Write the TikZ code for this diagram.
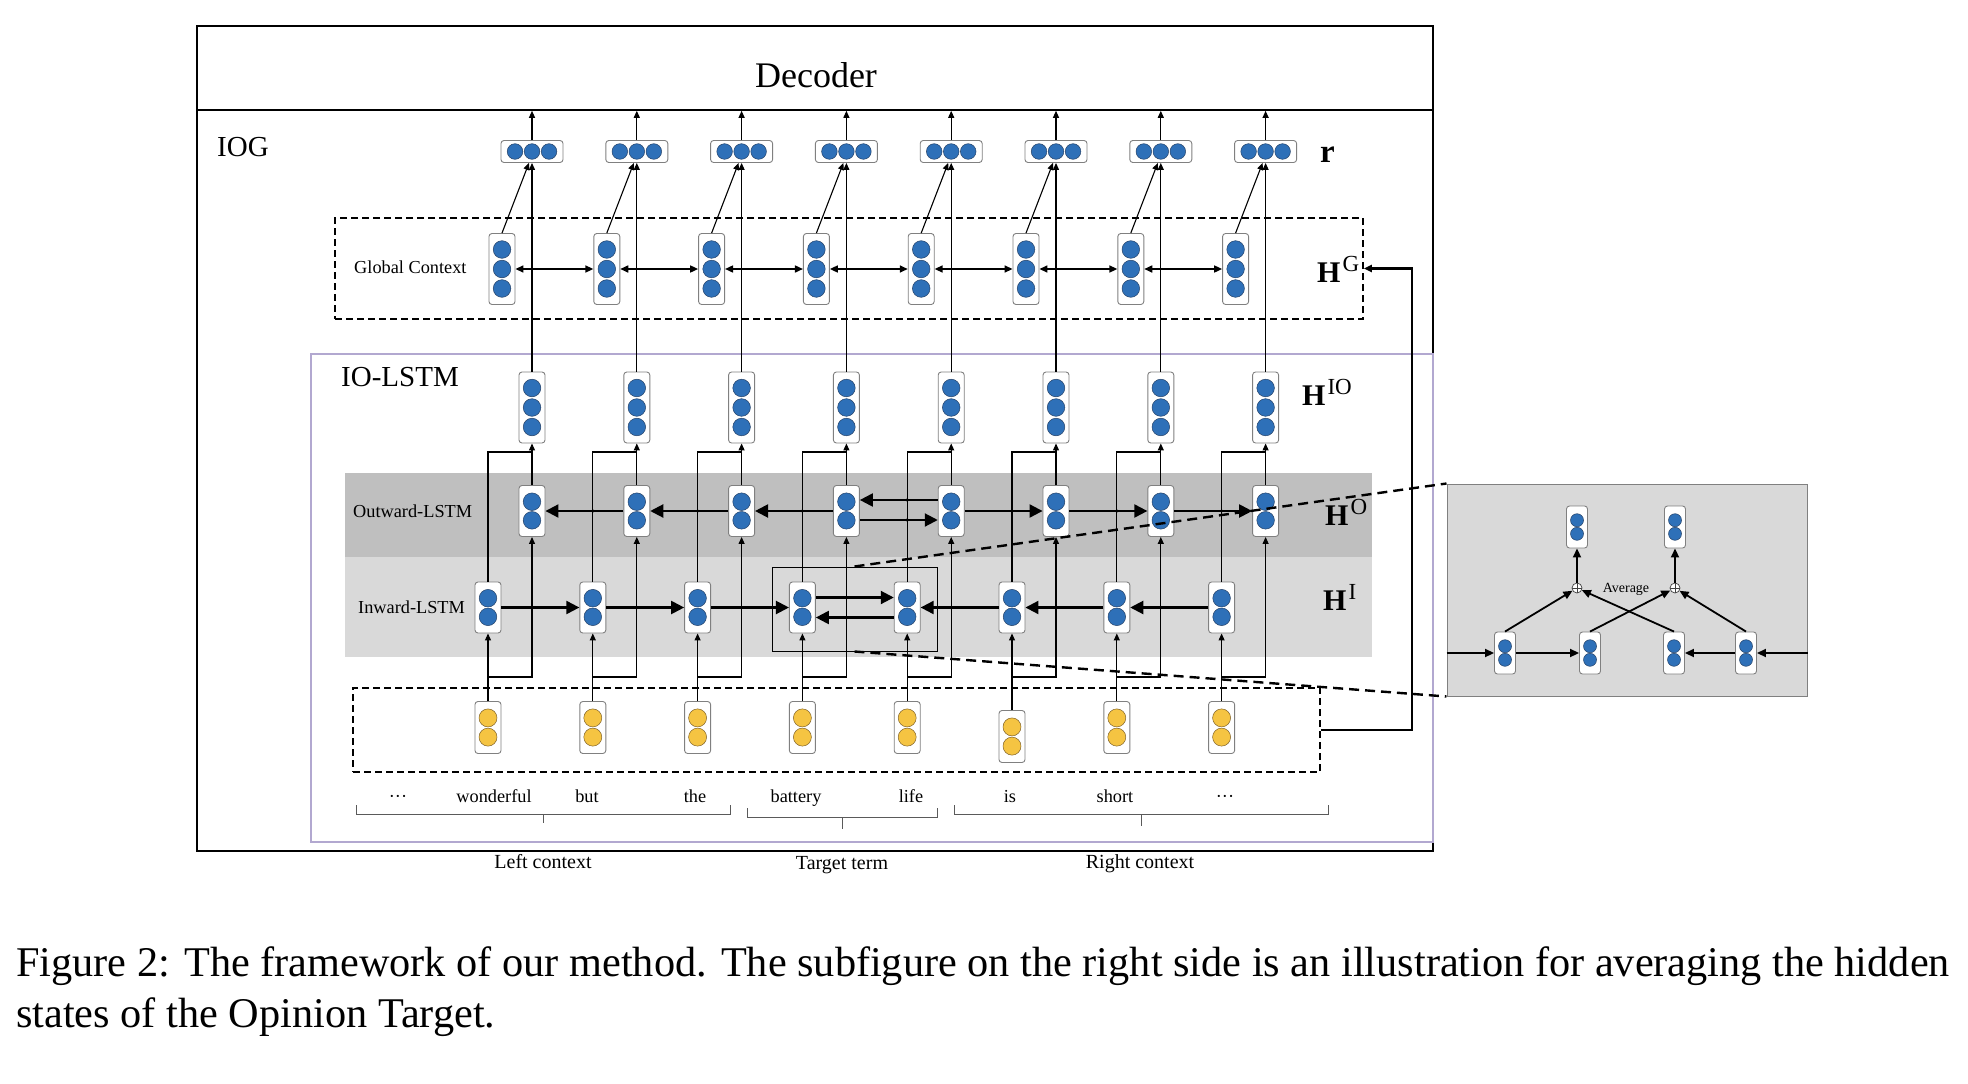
\documentclass[tikz,border=0pt]{standalone}
\usepackage{fontspec}
\setmainfont{Liberation Serif}
\usetikzlibrary{arrows.meta,calc}

\definecolor{cblue}{RGB}{46,112,184}
\definecolor{cblueedge}{RGB}{38,66,104}
\definecolor{cyellow}{RGB}{245,196,66}
\definecolor{cyellowedge}{RGB}{128,98,40}
\definecolor{boxgray}{RGB}{128,128,128}
\definecolor{outband}{RGB}{191,191,191}
\definecolor{inband}{RGB}{217,217,217}
\definecolor{lavender}{RGB}{178,168,208}
\definecolor{bracegray}{RGB}{90,90,90}

\newcommand{\hvec}[1]{\textbf{H}\kern2pt\raisebox{11pt}{\fontsize{23}{23}\selectfont #1}}

\tikzset{
  wire/.style={line width=1.1pt},
  up/.style={wire,-{Triangle[length=7pt,width=6pt]}},
  lstm/.style={line width=2.1pt,-{Triangle[length=13pt,width=13pt]}},
  ctx/.style={line width=1.6pt,{Triangle[length=8pt,width=7pt]}-{Triangle[length=8pt,width=7pt]}},
  feedback/.style={line width=2.3pt,-{Triangle[length=8pt,width=7pt]}},
  subarrow/.style={line width=1.8pt,-{Triangle[length=9pt,width=8pt]}},
  frame/.style={draw,line width=1.6pt},
  dashbox/.style={draw,line width=1.7pt,dash pattern=on 7pt off 4pt},
  zoomline/.style={line width=2.4pt,dash pattern=on 10pt off 6pt},
  bracket/.style={draw=bracegray,line width=1pt},
  unit/.style={draw=boxgray,fill=white,rounded corners=3pt,line width=0.9pt,inner sep=0pt},
  bdot/.style={fill=cblue,draw=cblueedge,line width=0.5pt},
  ydot/.style={fill=cyellow,draw=cyellowedge,line width=0.5pt},
  cellthree/.style={unit,minimum width=26pt,minimum height=71pt,
    path picture={\foreach \d in {-19.5,0,19.5}
      \draw[bdot] ([yshift=\d pt]path picture bounding box.center) circle (8.8pt);}},
  celltwo/.style={unit,minimum width=26pt,minimum height=51pt,
    path picture={\foreach \d in {-9.3,9.3}
      \draw[bdot] ([yshift=\d pt]path picture bounding box.center) circle (8.8pt);}},
  cellword/.style={unit,minimum width=26pt,minimum height=52pt,
    path picture={\foreach \d in {-9.6,9.6}
      \draw[ydot] ([yshift=\d pt]path picture bounding box.center) circle (9pt);}},
  cellr/.style={unit,minimum width=62pt,minimum height=22pt,
    path picture={\foreach \d in {-17,0,17}
      \draw[bdot] ([xshift=\d pt]path picture bounding box.center) circle (7.8pt);}},
  cellsub/.style={unit,minimum width=21pt,minimum height=42pt,
    path picture={\foreach \d in {-6.8,6.8}
      \draw[bdot] ([yshift=\d pt]path picture bounding box.center) circle (6.5pt);}},
  oplus/.style={circle,draw=darkgray,fill=white,minimum size=10pt,inner sep=0pt,line width=0.7pt,
    path picture={\draw[line width=0.5pt,darkgray]
      (path picture bounding box.north) -- (path picture bounding box.south)
      (path picture bounding box.west) -- (path picture bounding box.east);}},
  txt/.style={inner sep=0pt},
  capfont/.style={txt,font=\fontsize{42.3}{48}\selectfont},
  decfont/.style={txt,font=\fontsize{36}{40}\selectfont},
  bigfont/.style={txt,font=\fontsize{29}{32}\selectfont},
  midfont/.style={txt,font=\fontsize{18.3}{20}\selectfont},
  ctxfont/.style={txt,font=\fontsize{20}{22}\selectfont},
  avgfont/.style={txt,font=\fontsize{14}{16}\selectfont},
  hfont/.style={txt,font=\fontsize{30}{32}\selectfont},
}

\begin{document}
\begin{tikzpicture}[x=1pt,y=-1pt]
\useasboundingbox (0,0) rectangle (1968,1084);

% LSTM bands
\fill[outband] (345,473) rectangle (1372,557);
\fill[inband] (345,557) rectangle (1372,657);

% frames
\node[frame,minimum width=1236pt,minimum height=84pt] (dec) at (815,68) {};
\draw[frame] (197,26) rectangle (1433,851);
\draw[lavender,line width=1.3pt] (311,354) rectangle (1433,842);
\node[decfont] (dectext) at (816,75) {Decoder};

\node[dashbox,minimum width=1028pt,minimum height=101pt] (gc) at (849,268.5) {};
\node[dashbox,minimum width=967pt,minimum height=84pt] (inp) at (836.5,730) {};
\node[draw,line width=1pt,minimum width=165pt,minimum height=84pt] (tgt) at (854.5,609) {};

% labels
\node[bigfont,anchor=west] (iog) at (217,147) {IOG};
\node[bigfont,anchor=west] (iolstm) at (341,377) {IO-LSTM};
\node[midfont,anchor=west] (gctext) at (354,267) {Global Context};
\node[midfont,anchor=west] (outtext) at (353,511) {Outward-LSTM};
\node[midfont,anchor=west] (intext) at (358,607) {Inward-LSTM};
\node[txt,font=\fontsize{33}{34}\selectfont\bfseries,anchor=base west] (rl) at (1320,162) {r};
\node[hfont,anchor=base west] (hg) at (1317,282) {\hvec{G}};
\node[hfont,anchor=base west] (hio) at (1302,405) {\hvec{IO}};
\node[hfont,anchor=base west] (ho) at (1325,525) {\hvec{O}};
\node[hfont,anchor=base west] (hi) at (1323,610) {\hvec{I}};

% cells
\foreach \k in {1,...,8}{
  \pgfmathsetmacro\xo{532+104.8*(\k-1)}
  \pgfmathsetmacro\xi{\xo-44}
  \pgfmathsetmacro\xg{\xo-30}
  \pgfmathsetmacro\ye{ifthenelse(\k==6,736.5,727.5)}
  \node[cellr] (r\k) at (\xo,151.5) {};
  \node[cellthree] (g\k) at (\xg,269) {};
  \node[cellthree] (hio\k) at (\xo,407.5) {};
  \node[celltwo] (o\k) at (\xo,511) {};
  \node[celltwo] (i\k) at (\xi,607.5) {};
  \node[cellword] (e\k) at (\xi,\ye) {};
}

% vertical connections
\coordinate (split) at (0,677);
\coordinate (merge) at (0,452);
\foreach \k in {1,...,8}{
  \draw[up] (e\k.north) -- (i\k.south);
  \draw[up] (e\k.north |- split) -| (o\k.south);
  \draw[wire] (i\k.north) |- (hio\k.south |- merge);
  \draw[up] (o\k.north) -- (hio\k.south);
  \draw[up] (hio\k.north) -- (r\k.south);
  \draw[up] (g\k.north) -- ([xshift=-3pt]r\k.south);
  \draw[up] (r\k.north) -- (r\k.north |- dec.south);
}

% global context
\foreach \k [evaluate=\k as \kk using int(\k+1)] in {1,...,7}
  \draw[ctx] (g\k.east) -- (g\kk.west);

% inward / outward LSTM
\foreach \k [evaluate=\k as \kk using int(\k+1)] in {1,2,3}{
  \draw[lstm] (i\k.east) -- (i\kk.west);
  \draw[lstm] (o\kk.west) -- (o\k.east);
  \fill (i\kk |- o\k) circle (1.8pt);
  \fill (o\k |- i\k) circle (1.8pt);
}
\foreach \k [evaluate=\k as \kk using int(\k+1)] in {5,6,7}{
  \draw[lstm] (i\kk.west) -- (i\k.east);
  \draw[lstm] (o\k.east) -- (o\kk.west);
  \fill (i\kk |- o\k) circle (1.8pt);
  \fill (o\k |- i\k) circle (1.8pt);
}
\draw[lstm] ([yshift=10pt]i4.east) -- ([yshift=10pt]i5.west);
\draw[lstm] ([yshift=-10pt]i5.west) -- ([yshift=-10pt]i4.east);
\draw[lstm] ([yshift=11pt]o5.west) -- ([yshift=11pt]o4.east);
\draw[lstm] ([yshift=-9pt]o4.east) -- ([yshift=-9pt]o5.west);
\fill ($(i5 |- o4)+(0,-11)$) circle (1.8pt);
\fill ($(i5 |- o4)+(0,9)$) circle (1.8pt);
\fill ($(o4 |- i4)+(0,-10)$) circle (1.8pt);
\fill ($(o4 |- i4)+(0,10)$) circle (1.8pt);

% feedback to global context
\draw[feedback] (inp.east) -- ++(91,0) |- (gc.east);

% words and spans
\foreach \w/\x [count=\n] in {···/398,wonderful/494,but/587,the/695,battery/796,life/911,is/1010,short/1115,···/1225}
  \node[midfont,anchor=base] (t\n) at (\x,802) {\w};
\draw[bracket] (356,805) -- (356,814) -- (730,814) -- (730,805) (543,814) -- (543,823);
\draw[bracket] (747,808) -- (747,817) -- (937,817) -- (937,808) (842,817) -- (842,829);
\draw[bracket] (954,805) -- (954,814) -- (1328,814) -- (1328,805) (1141,814) -- (1141,826);
\node[ctxfont,anchor=base] (leftctx) at (543,868) {Left context};
\node[ctxfont,anchor=base] (tgtterm) at (842,869) {Target term};
\node[ctxfont,anchor=base] (rightctx) at (1140,868) {Right context};

% subfigure: averaging
\node[draw=boxgray,fill=inband,line width=1pt,minimum width=360pt,minimum height=212pt] (sub) at (1627,590) {};
\draw[zoomline] (tgt.north) -- (sub.north west);
\draw[zoomline] (tgt.south) -- (sub.south west);
\node[cellsub] (sa1) at (1577,527) {};
\node[cellsub] (sa2) at (1675,527) {};
\node[oplus] (p1) at (1577,588) {};
\node[oplus] (p2) at (1675,588) {};
\node[avgfont,anchor=base] (avg) at (1626,592) {Average};
\node[cellsub] (sb1) at (1505,653) {};
\node[cellsub] (sb2) at (1590,653) {};
\node[cellsub] (sb3) at (1674,653) {};
\node[cellsub] (sb4) at (1746,653) {};
\draw[subarrow] (sb1.west -| sub.west) -- (sb1.west);
\draw[subarrow] (sb1.east) -- (sb2.west);
\draw[subarrow] (sb4.west) -- (sb3.east);
\draw[subarrow] (sb4.east -| sub.east) -- (sb4.east);
\draw[subarrow] (sb1.north) -- (p1);
\draw[subarrow] (sb3.north) -- (p1);
\draw[subarrow] (sb2.north) -- (p2);
\draw[subarrow] (sb4.north) -- (p2);
\draw[subarrow] (p1) -- (sa1.south);
\draw[subarrow] (p2) -- (sa2.south);

% caption
\node[capfont,anchor=base west] (cap1) at (16,976) {Figure 2: The framework of our method. The subfigure on the right side is an illustration for averaging the hidden};
\node[capfont,anchor=base west] (cap2) at (16,1027) {states of the Opinion Target.};
\end{tikzpicture}
\end{document}
